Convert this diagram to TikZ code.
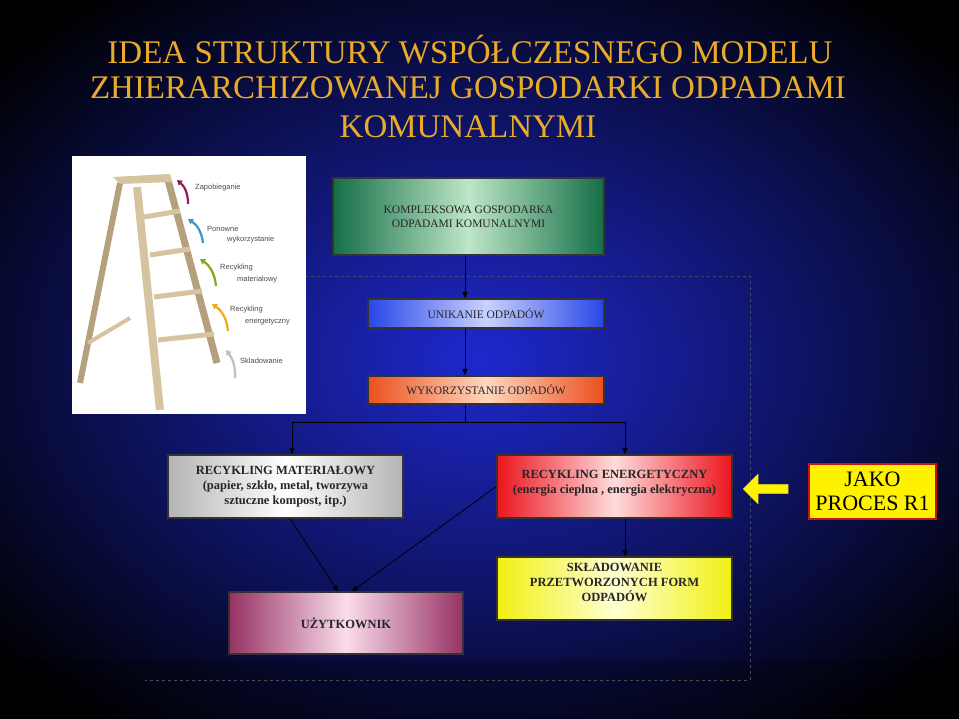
\documentclass[tikz,border=0pt]{standalone}
\usepackage{fontspec}
\setmainfont{Liberation Serif}
\newfontfamily\lsans{Liberation Sans}
\usetikzlibrary{arrows.meta,shapes.arrows}
\definecolor{gold}{RGB}{232,172,40}
\definecolor{tan}{RGB}{214,196,160}
\definecolor{tandk}{RGB}{180,160,125}
\definecolor{bgblue}{RGB}{30,40,205}
\definecolor{gA}{RGB}{20,110,70}\definecolor{gB}{RGB}{190,230,200}
\definecolor{bA}{RGB}{40,70,230}\definecolor{bB}{RGB}{200,210,255}
\definecolor{oA}{RGB}{235,80,30}\definecolor{oB}{RGB}{255,215,190}
\definecolor{rA}{RGB}{235,20,30}\definecolor{rB}{RGB}{255,220,220}
\definecolor{yA}{RGB}{240,240,20}\definecolor{yB}{RGB}{255,255,210}
\definecolor{pA}{RGB}{150,50,100}\definecolor{pB}{RGB}{250,220,235}
\definecolor{sA}{RGB}{180,180,180}
\definecolor{c1}{RGB}{140,30,90}\definecolor{c2}{RGB}{60,150,190}
\definecolor{c3}{RGB}{130,170,30}\definecolor{c4}{RGB}{240,170,20}
\definecolor{rd}{RGB}{200,20,20}
\tikzset{
 bx/.style n args={2}{draw=black!80, line width=1.5pt, left color=#1, right color=#1, middle color=#2, inner sep=0pt, align=center, font=\fontsize{12.5}{15}\selectfont\bfseries, text=black!85},
 con/.style={black, line width=0.8pt, -{Triangle[length=6pt,width=5pt]}},
 lab/.style={font=\lsans\fontsize{7.5}{8}\selectfont, text=black!70, anchor=west, inner sep=0pt},
 rung/.style={tan, line width=5pt},
 carr/.style={line width=2.2pt, -{Triangle[length=5pt,width=6pt]}},
 ttl/.style={text=gold, font=\fontsize{33}{35}\selectfont}
}
\begin{document}
\begin{tikzpicture}[x=1pt,y=-1pt]
\useasboundingbox (0,0) rectangle (959,719);
\shade[inner color=bgblue, outer color=black] (-150,-100) rectangle (1109,819);
\fill[black, opacity=0.2] (0,660) rectangle (959,719);
% title
\node[ttl] (t1) at (470,50) {IDEA STRUKTURY WSPÓŁCZESNEGO MODELU};
\node[ttl] (t2) at (468,88) {ZHIERARCHIZOWANEJ GOSPODARKI ODPADAMI};
\node[ttl] (t3) at (468,127) {KOMUNALNYMI};
% dashed frame
\draw[black!70, dashed, line width=0.8pt] (305,276) -- (750,276) -- (750,680) -- (145,680);
% ladder picture
\fill[white] (72,156) rectangle (306,414);
\draw[tandk, line width=6pt] (120,183) -- (80,383);
\draw[tan, line width=4pt] (88,343) -- (130,318);
\draw[tandk, line width=7pt] (168,180) -- (217,363);
\foreach \y/\a/\b in {217/144/180, 255/150/190, 297/154/202, 340/158/214}
  \draw[rung] (\a,\y) -- (\b,\y-6);
\draw[tan, line width=8pt] (137,187) -- (160,410);
\fill[tan] (113,177) -- (170,174) -- (172,182) -- (120,184) -- cycle;
\draw[carr, color=c1] (188,204) to[bend right=25] (177,180);
\draw[carr, color=c2] (203,243) to[bend right=25] (188,219);
\draw[carr, color=c3] (216,286) to[bend right=25] (200,259);
\draw[carr, color=c4] (228,331) to[bend right=25] (212,304);
\draw[carr, color=black!25] (235,378) to[bend right=20] (226,350);
\node[lab] (l1) at (195,188) {Zapobieganie};
\node[lab] (l2) at (207,229) {Ponowne};
\node[lab] (l3) at (227,240) {wykorzystanie};
\node[lab] (l4) at (220,268) {Recykling};
\node[lab] (l5) at (237,280) {materialowy};
\node[lab] (l6) at (230,310) {Recykling};
\node[lab] (l7) at (245,322) {energetyczny};
\node[lab] (l8) at (240,361) {Skladowanie};
% boxes
\node[bx={gA}{gB}, minimum width=271pt, minimum height=77pt, font=\fontsize{11.5}{14}\selectfont] (k) at (468.5,216.5) {KOMPLEKSOWA GOSPODARKA\\ODPADAMI KOMUNALNYMI};
\node[bx={bA}{bB}, minimum width=236pt, minimum height=29pt, font=\fontsize{11.5}{14}\selectfont] (u) at (486,313.5) {UNIKANIE ODPADÓW};
\node[bx={oA}{oB}, minimum width=236pt, minimum height=28pt, font=\fontsize{11.5}{14}\selectfont] (w) at (486,390) {WYKORZYSTANIE ODPADÓW};
\node[bx={sA}{white}, minimum width=235pt, minimum height=63pt] (rm) at (285.5,486.5) {RECYKLING MATERIAŁOWY\\(papier, szkło, metal, tworzywa\\sztuczne kompost, itp.)};
\node[bx={rA}{rB}, minimum width=235pt, minimum height=63pt, text depth=9pt] (re) at (614.5,486.5) {RECYKLING ENERGETYCZNY\\(energia cieplna , energia elektryczna)};
\node[bx={yA}{yB}, minimum width=235pt, minimum height=63pt, text depth=12pt] (s) at (614.5,588.5) {SKŁADOWANIE\\PRZETWORZONYCH FORM\\ODPADÓW};
\node[bx={pA}{pB}, minimum width=234pt, minimum height=62pt] (uz) at (346,623) {UŻYTKOWNIK};
\node[draw=rd, line width=2.5pt, fill=yellow, minimum width=127pt, minimum height=55pt, align=center, font=\fontsize{22}{24}\selectfont, inner sep=0pt] (r1) at (872.5,491.5) {JAKO\\PROCES R1};
\node[single arrow, fill=yellow, draw=yellow!80!black, shape border rotate=180, minimum height=45pt, minimum width=30pt, single arrow head extend=5pt, inner sep=2pt] (ya) at (768,489) {};
% connectors
\draw[con] (k.south -| 465,0) -- (u.north -| 465,0);
\draw[con] (u.south -| 465,0) -- (w.north -| 465,0);
\coordinate (j) at (465,422);
\draw[line width=0.8pt] (w.south -| j) -- (j);
\draw[con] (j) -| (rm.north -| 292,0);
\draw[con] (j) -| (re.north -| 625,0);
\draw[con] (re.south -| 625,0) -- (s.north -| 625,0);
\draw[con] (rm.south -| 290,0) -- (uz.north -| 338,0);
\draw[con] (re.west) -- (uz.north -| 352,0);
\end{tikzpicture}
\end{document}
